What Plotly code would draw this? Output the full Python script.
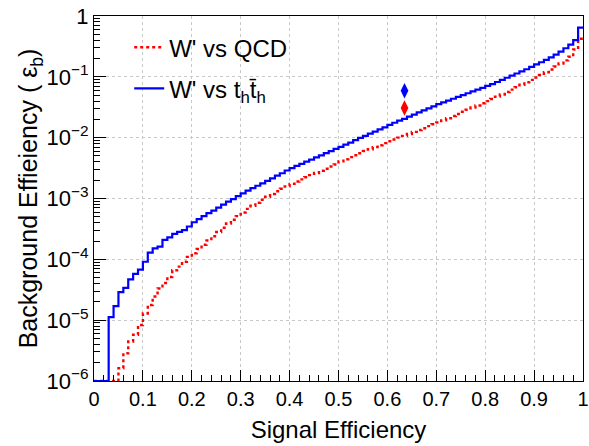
import numpy as np
import plotly.graph_objects as go

# Bin lower edges of the ROC histograms (100 bins of width 0.01 on signal efficiency)
bin_lo = [round(i * 0.01, 2) for i in range(100)]
x_end = 1.0

# log10(background efficiency) per bin (None = empty bin -> drawn at axis floor)
qcd_log = [None, None, None, None, None,
           -5.79, -5.545, -5.35, -5.24, -5.08, -4.89, -4.75, -4.61, -4.48, -4.39,
           -4.29, -4.18, -4.12, -4.04, -3.96, -3.90, -3.83, -3.76, -3.69, -3.62,
           -3.55, -3.48, -3.41, -3.35, -3.29, -3.23, -3.17, -3.12, -3.07, -3.02,
           -2.97, -2.925, -2.88, -2.84, -2.80, -2.76, -2.72, -2.685, -2.65, -2.615,
           -2.58, -2.545, -2.51, -2.475, -2.44, -2.39, -2.355, -2.32, -2.29, -2.255,
           -2.22, -2.19, -2.155, -2.125, -2.09, -2.06, -2.03, -2.00, -1.97, -1.94,
           -1.905, -1.875, -1.845, -1.81, -1.78, -1.75, -1.715, -1.68, -1.645, -1.61,
           -1.575, -1.54, -1.505, -1.47, -1.435, -1.40, -1.365, -1.325, -1.29, -1.25,
           -1.21, -1.17, -1.13, -1.09, -1.05, -1.01, -0.97, -0.925, -0.88, -0.83,
           -0.78, -0.73, -0.67, -0.55, -0.375]

tt_log = [None, None, None,
          -4.95, -4.77, -4.54, -4.47, -4.33, -4.24, -4.17, -4.04, -3.89, -3.82,
          -3.79, -3.68, -3.64, -3.58, -3.55, -3.52, -3.46, -3.39, -3.34, -3.29,
          -3.24, -3.20, -3.15, -3.10, -3.05, -3.01, -2.96, -2.915, -2.87, -2.83,
          -2.79, -2.75, -2.71, -2.67, -2.625, -2.585, -2.54, -2.50, -2.465, -2.43,
          -2.395, -2.36, -2.325, -2.29, -2.255, -2.22, -2.185, -2.15, -2.115, -2.08,
          -2.04, -2.005, -1.97, -1.935, -1.90, -1.865, -1.83, -1.79, -1.755, -1.72,
          -1.69, -1.655, -1.62, -1.585, -1.55, -1.52, -1.485, -1.45, -1.42, -1.39,
          -1.36, -1.33, -1.30, -1.27, -1.24, -1.21, -1.18, -1.15, -1.12, -1.085,
          -1.05, -1.015, -0.98, -0.945, -0.91, -0.875, -0.835, -0.795, -0.76, -0.72,
          -0.68, -0.635, -0.585, -0.53, -0.47, -0.395, -0.19]

# Working points (diamonds)
wp_sig = [0.635, 0.635]
wp_bkg = [0.059, 0.0307]
wp_colors = ["#0000ff", "#ff0000"]

y_floor = 1e-6

def to_vals(logs):
    v = [y_floor if l is None else 10 ** l for l in logs]
    return v + [v[-1]]

xs = bin_lo + [x_end]

fig = go.Figure()
fig.add_trace(go.Scatter(
    x=xs, y=to_vals(qcd_log), mode="lines", line_shape="hv",
    line=dict(color="#ff0000", width=2.4, dash="dot"),
    name="W' vs QCD", legendgroup="a"))
fig.add_trace(go.Scatter(
    x=xs, y=to_vals(tt_log), mode="lines", line_shape="hv",
    line=dict(color="#0000ff", width=2.2),
    name="W' vs t<sub>h</sub>t\u0304<sub>h</sub>", legendgroup="b"))
fig.add_trace(go.Scatter(
    x=wp_sig, y=wp_bkg, mode="markers",
    marker=dict(symbol="diamond-tall", size=11, color=wp_colors),
    showlegend=False, cliponaxis=False))

font_family = "Liberation Sans, Arial, Helvetica, sans-serif"

ytickvals = [10 ** e for e in range(-6, 1)]
yticktext = ["10<sup>\u22126</sup>", "10<sup>\u22125</sup>", "10<sup>\u22124</sup>",
             "10<sup>\u22123</sup>", "10<sup>\u22122</sup>", "10<sup>\u22121</sup>", "1"]
yminor = [m * 10 ** e for e in range(-6, 0) for m in range(2, 10)]

fig.update_layout(
    width=589, height=446,
    margin=dict(l=94, r=6, t=16, b=65, autoexpand=False),
    paper_bgcolor="white", plot_bgcolor="white",
    font=dict(family=font_family, color="black", size=20),
    showlegend=True,
    legend=dict(x=0.072, y=0.975, xanchor="left", yanchor="top",
                bgcolor="rgba(0,0,0,0)", font=dict(size=24),
                tracegroupgap=7, itemwidth=30),
    xaxis=dict(range=[0, 1], tickvals=[i / 10 for i in range(11)],
               ticktext=["0", "0.1", "0.2", "0.3", "0.4", "0.5", "0.6", "0.7", "0.8", "0.9", "1"],
               ticks="inside", ticklen=11, tickwidth=1, tickcolor="black",
               minor=dict(tickvals=[i / 50 for i in range(51) if i % 5 != 0],
                          ticks="inside", ticklen=6, tickcolor="black", showgrid=False),
               showline=True, linecolor="black", linewidth=1, mirror=True,
               showgrid=True, gridcolor="#c8c8c8", griddash="dot", gridwidth=1,
               zeroline=False, tickfont=dict(size=20), automargin=False,
               title=dict(text="Signal Efficiency", font=dict(size=24), standoff=12)),
    yaxis=dict(type="log", range=[-6, 0], tickvals=ytickvals, ticktext=yticktext,
               ticks="inside", ticklen=12, tickwidth=1, tickcolor="black",
               minor=dict(tickvals=yminor, ticks="inside", ticklen=6,
                          tickcolor="black", showgrid=False),
               showline=True, linecolor="black", linewidth=1, mirror=True,
               showgrid=True, gridcolor="#c8c8c8", griddash="dot", gridwidth=1,
               zeroline=False, tickfont=dict(size=22), automargin=False,
               title=dict(text="Background Effieiency ( \u03b5<sub>b</sub>)",
                          font=dict(size=25), standoff=0)),
)

fig.write_html("out.html")
